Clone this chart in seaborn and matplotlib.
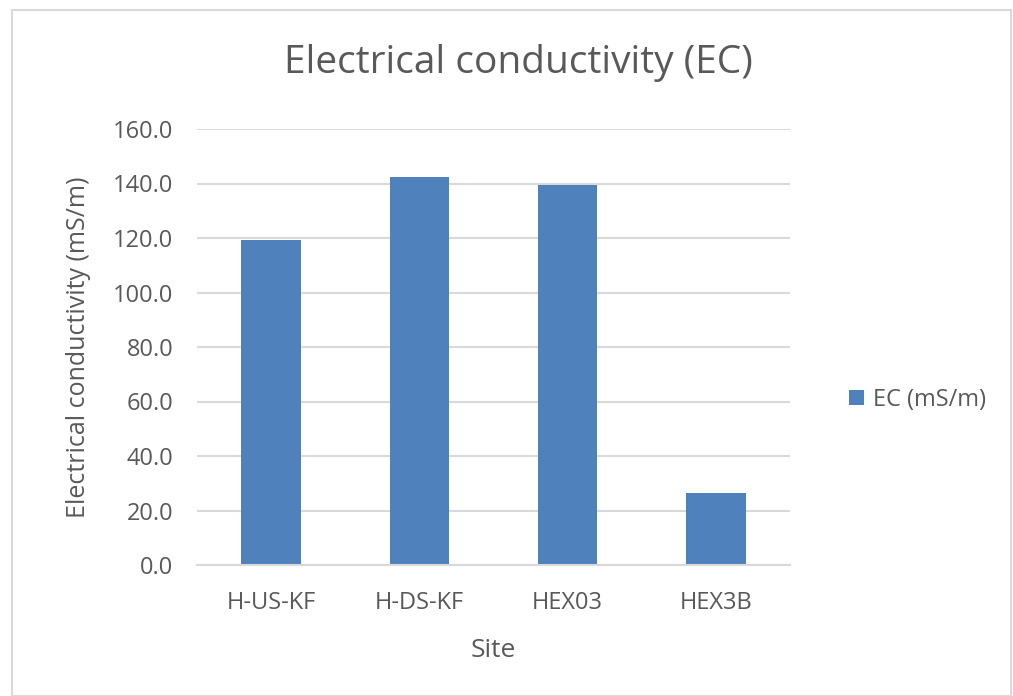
import matplotlib
matplotlib.use("Agg")
import matplotlib.pyplot as plt
import seaborn as sns
import pandas as pd
from matplotlib.patches import Rectangle

sites = ["H-US-KF", "H-DS-KF", "HEX03", "HEX3B"]
ec_values = [119.3, 142.4, 139.5, 26.6]
series_name = "EC (mS/m)"
yticks = [0, 20, 40, 60, 80, 100, 120, 140, 160]

df = pd.DataFrame({"Site": sites, "EC": ec_values, "Series": series_name})

sns.set_theme(style="white")
plt.rcParams['font.family'] = ['Open Sans', 'DejaVu Sans']
text_color = "#595959"
bar_color = "#4F81BD"

fig = plt.figure(figsize=(10.13, 6.96), dpi=100)
ax = fig.add_axes([197/1013, 1 - 565/696, (790-197)/1013, (565-129)/696])

sns.barplot(data=df, x="Site", y="EC", hue="Series", palette=[bar_color],
            width=0.4, ax=ax, edgecolor="none", saturation=1)

ax.set_ylim(0, 160)
ax.set_yticks(yticks)
ax.set_yticklabels([f"{v:.1f}" for v in yticks])
ax.yaxis.grid(True, color="#D9D9D9", linewidth=1.5)
ax.set_axisbelow(True)
for s in ["top", "right", "left"]:
    ax.spines[s].set_visible(False)
ax.spines["bottom"].set_color("#D9D9D9")
ax.spines["bottom"].set_linewidth(1.5)
ax.tick_params(axis="both", colors=text_color, labelsize=17, length=0)
ax.tick_params(axis="y", pad=17)
ax.tick_params(axis="x", pad=19)
ax.set_xlabel("Site", fontsize=19, color=text_color, labelpad=16)
ax.set_ylabel("Electrical conductivity (mS/m)", fontsize=18, color=text_color, labelpad=16)

fig.text((197+790)/2/1013 + 0.025, 1 - 63/696, "Electrical conductivity (EC)",
         fontsize=28, color=text_color, ha="center", va="center")

ax.legend(loc="center left", bbox_to_anchor=(828/1013, 1 - 400/696),
          bbox_transform=fig.transFigure, frameon=False, fontsize=17,
          labelcolor=text_color, handlelength=0.62, handleheight=0.62,
          handletextpad=0.4)

# chart frame
fig.patches.append(Rectangle((12/1013, 0), 1 - 12/1013 - 0.002, 1 - 10/696,
                             transform=fig.transFigure, fill=False,
                             edgecolor="#D9D9D9", linewidth=1.5))

fig.savefig("out.png", dpi=100)
